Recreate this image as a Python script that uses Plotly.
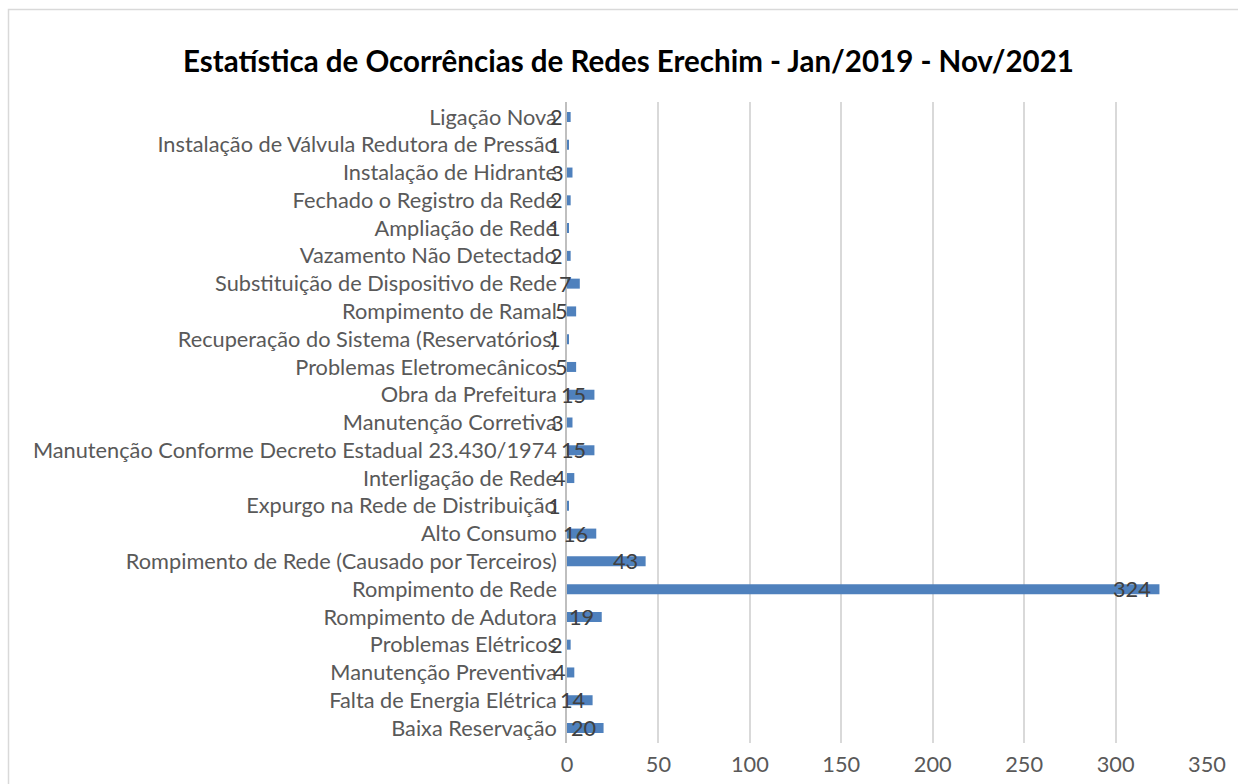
import plotly.graph_objects as go

# Ocorrências por tipo (de baixo para cima no eixo)
categorias = [
    "Baixa Reservação",
    "Falta de Energia Elétrica",
    "Manutenção Preventiva",
    "Problemas Elétricos",
    "Rompimento de Adutora",
    "Rompimento de Rede",
    "Rompimento de Rede (Causado por Terceiros)",
    "Alto Consumo",
    "Expurgo na Rede de Distribuição",
    "Interligação de Rede",
    "Manutenção Conforme Decreto Estadual 23.430/1974",
    "Manutenção Corretiva",
    "Obra da Prefeitura",
    "Problemas Eletromecânicos",
    "Recuperação do Sistema (Reservatórios)",
    "Rompimento de Ramal",
    "Substituição de Dispositivo de Rede",
    "Vazamento Não Detectado",
    "Ampliação de Rede",
    "Fechado o Registro da Rede",
    "Instalação de Hidrante",
    "Instalação de Válvula Redutora de Pressão",
    "Ligação Nova",
]
ocorrencias = [20, 14, 4, 2, 19, 324, 43, 16, 1, 4, 15, 3, 15, 5, 1, 5, 7, 2, 1, 2, 3, 1, 2]

x_ticks = [0, 50, 100, 150, 200, 250, 300, 350]

W, H = 1238, 784
L, R, T, B = 567, 1207, 102, 743

FONT = "Lato, 'Open Sans', sans-serif"
LABEL_SIZE = 21.75

fig = go.Figure()
fig.add_trace(go.Bar(
    x=ocorrencias,
    y=categorias,
    orientation="h",
    marker=dict(color="#4F81BD", line=dict(width=0)),
    hoverinfo="x+y",
))

# rótulos de valor ancorados no fim de cada barra
for cat, val in zip(categorias, ocorrencias):
    fig.add_annotation(
        x=val, y=cat, text=str(val), showarrow=False,
        xanchor="right", yanchor="middle", xshift=-6,
        font=dict(family=FONT, size=LABEL_SIZE, color="#404040"),
    )

def px_x(p):
    return (p - L) / (R - L)

def px_y(p):
    return (B - p) / (B - T)

# moldura do gráfico
fig.add_shape(
    type="rect", xref="paper", yref="paper",
    x0=px_x(8.5), x1=px_x(1260), y0=px_y(9.5), y1=px_y(820),
    line=dict(color="#d9d9d9", width=1.5), layer="below",
)

fig.update_layout(
    width=W, height=H,
    margin=dict(l=L, r=W - R, t=T, b=H - B, pad=0, autoexpand=False),
    paper_bgcolor="white", plot_bgcolor="white",
    bargap=0.64,
    showlegend=False,
    title=dict(
        text="<b>Estatística de Ocorrências de Redes Erechim - Jan/2019 - Nov/2021</b>",
        x=628.5 / W, xanchor="center",
        y=1 - 62 / H, yanchor="middle",
        font=dict(family=FONT, size=29.5, color="#000000"),
    ),
    xaxis=dict(
        range=[0, 350], tickvals=x_ticks, showgrid=True,
        gridcolor="#d9d9d9", gridwidth=1.5, zeroline=False,
        showline=False, ticks="", ticklabelstandoff=6, automargin=False,
        tickfont=dict(family=FONT, size=LABEL_SIZE, color="#595959"),
    ),
    yaxis=dict(
        categoryorder="array", categoryarray=categorias,
        showgrid=False, showline=True, linecolor="#bfbfbf", linewidth=1.5,
        ticks="", ticklabelstandoff=4, automargin=False,
        tickfont=dict(family=FONT, size=LABEL_SIZE, color="#595959"),
    ),
)

fig.write_html("out.html")
